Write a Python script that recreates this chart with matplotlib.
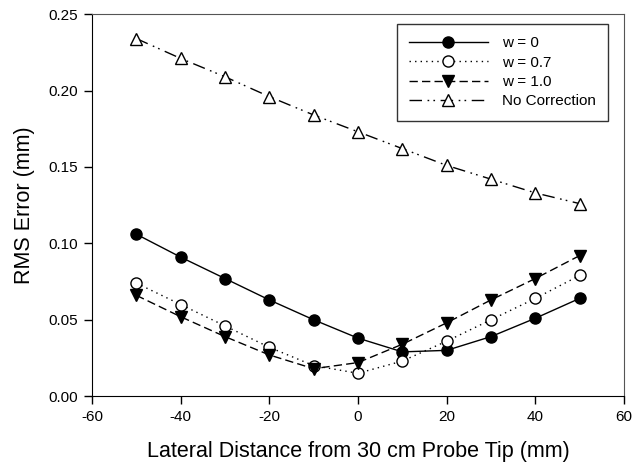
import matplotlib.pyplot as plt
import numpy as np

plt.rcParams['font.family'] = ['Liberation Sans', 'DejaVu Sans']
plt.rcParams['axes.unicode_minus'] = False

# Lateral distance (mm)
x = [-50, -40, -30, -20, -10, 0, 10, 20, 30, 40, 50]

# RMS error (mm)
w0 = [0.106, 0.091, 0.077, 0.063, 0.050, 0.038, 0.029, 0.030, 0.039, 0.051, 0.064]
w07 = [0.074, 0.060, 0.046, 0.032, 0.020, 0.015, 0.023, 0.036, 0.050, 0.064, 0.079]
w10 = [0.066, 0.052, 0.039, 0.027, 0.018, 0.022, 0.034, 0.048, 0.063, 0.077, 0.092]
no_corr = [0.234, 0.221, 0.209, 0.196, 0.184, 0.173, 0.162, 0.151, 0.142, 0.133, 0.126]

labels = ["w = 0", "w = 0.7", "w = 1.0", "No Correction"]

fig = plt.figure(figsize=(6.33, 4.70), dpi=100)
ax = fig.add_axes([0.1453, 0.157, 0.8405, 0.813])

ax.plot(x, w0, color='black', lw=1.0, marker='o', ms=8,
        mfc='black', mec='black', label=labels[0])
ax.plot(x, w07, color='black', lw=1.0, ls=(0, (1, 3)), marker='o', ms=8,
        mfc='white', mec='black', label=labels[1])
ax.plot(x, w10, color='black', lw=1.0, ls=(0, (6, 3)), marker='v', ms=8,
        mfc='black', mec='black', label=labels[2])
ax.plot(x, no_corr, color='black', lw=1.0, ls=(0, (9, 4, 1.2, 3, 1.2, 4)),
        marker='^', ms=8, mfc='white', mec='black', label=labels[3])

ax.set_xlim(-60, 60)
ax.set_ylim(0, 0.25)
ax.set_xticks(np.arange(-60, 61, 20))
ax.set_yticks(np.arange(0, 0.251, 0.05))
ax.set_yticklabels(["%.2f" % v for v in np.arange(0, 0.251, 0.05)])
ax.tick_params(direction='out', length=6, width=1, labelsize=11, pad=4,
               top=False, right=False)
for s in ['top', 'right']:
    ax.spines[s].set_color('#555555')

ax.set_xlabel("Lateral Distance from 30 cm Probe Tip (mm)", fontsize=15.5, labelpad=12)
ax.set_ylabel("RMS Error (mm)", fontsize=15.5, labelpad=10)

leg = ax.legend(loc='upper right', bbox_to_anchor=(0.970, 0.974), fontsize=11,
                frameon=True, fancybox=False, edgecolor='black',
                handlelength=5.2, borderpad=0.8, labelspacing=0.35,
                borderaxespad=0.0, handletextpad=0.9)
leg.get_frame().set_linewidth(1.0)

fig.savefig("out.png", dpi=100)
